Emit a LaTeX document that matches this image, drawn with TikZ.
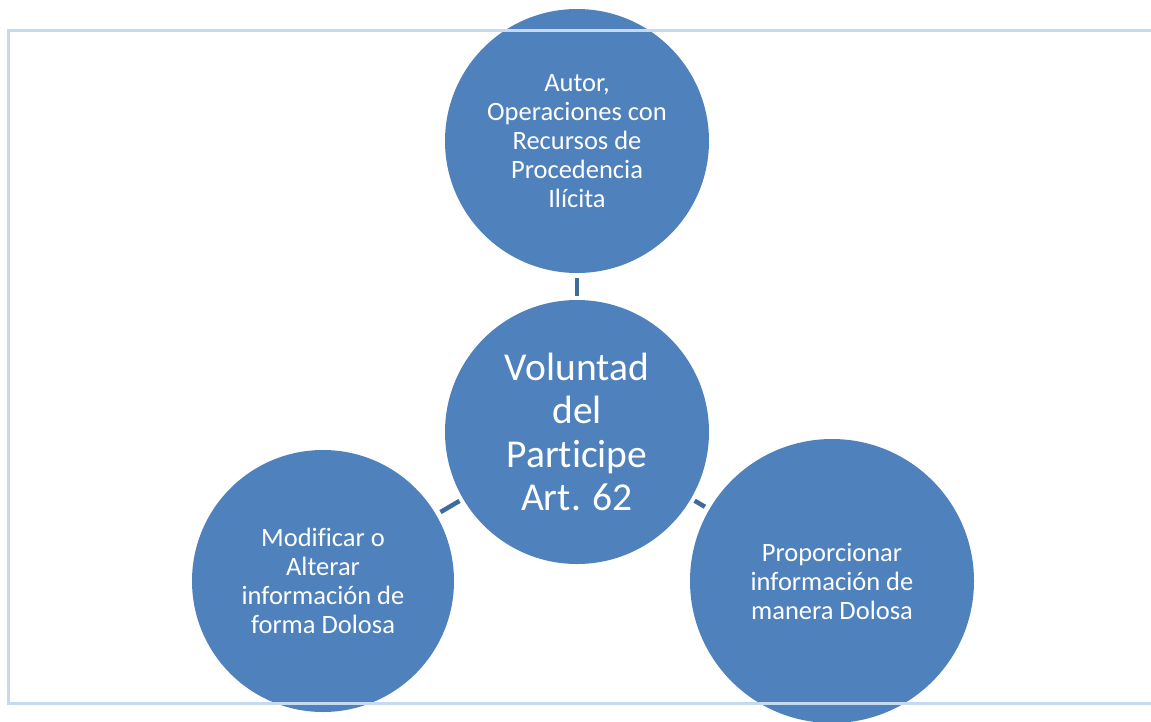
\documentclass[tikz,border=0pt]{standalone}
\usepackage{fontspec}
\setmainfont{Carlito}[Ligatures=NoCommon]
\usetikzlibrary{positioning}
\definecolor{circblue}{HTML}{4F81BD}
\definecolor{linkblue}{HTML}{3E6C9C}
\definecolor{frameblue}{HTML}{C6D9F1}

\begin{document}
\begin{tikzpicture}[x=1pt,y=-1pt,
    bubble/.style={circle, fill=circblue, text=white, align=center, inner sep=0pt},
    small/.style={font=\fontsize{26.5}{29}\selectfont},
    big/.style={font=\fontsize{39.5}{43.5}\selectfont},
    link/.style={linkblue, line width=4.5pt, shorten <=5pt, shorten >=4pt}]
    \useasboundingbox (0,0) rectangle (1151,721);

    % Circles
    \node[bubble, small, minimum size=264pt] (autor) at (577,141) {Autor,\\Operaciones con\\Recursos de\\Procedencia\\Ilícita};
    \node[bubble, big, minimum size=264pt] (voluntad) at (577,432) {Voluntad\\del\\Participe\\Art. 62};
    \node[bubble, small, minimum size=262pt] (modificar) at (323,581) {Modificar o\\Alterar\\información de\\forma Dolosa};
    \node[bubble, small, minimum size=284pt] (proporcionar) at (832,581) {Proporcionar\\información de\\manera Dolosa};

    % Connectors
    \draw[link] (autor) -- (voluntad);
    \draw[link] (modificar) -- (voluntad);
    \draw[link] (proporcionar) -- (voluntad);

    % Frame
    \draw[frameblue, line width=3pt] (1160,30) -- (8,30) -- (8,703) -- (1160,703);
\end{tikzpicture}
\end{document}
